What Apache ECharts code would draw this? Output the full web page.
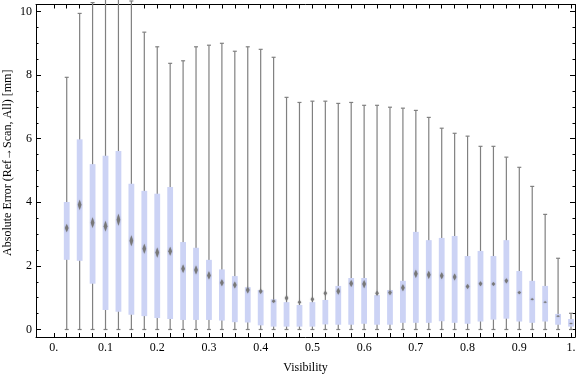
<!DOCTYPE html>
<html>
<head>
<meta charset="utf-8">
<script src="https://cdn.jsdelivr.net/npm/echarts@6/dist/echarts.min.js"></script>
<style>html,body{margin:0;padding:0;background:#fff;}#chart{width:576px;height:377px;}</style>
</head>
<body>
<div id="chart"></div>
<script>
// ---- data ----
const visibility = [0.025,0.05,0.075,0.1,0.125,0.15,0.175,0.2,0.225,0.25,0.275,0.3,0.325,0.35,0.375,0.4,0.425,0.45,0.475,0.5,0.525,0.55,0.575,0.6,0.625,0.65,0.675,0.7,0.725,0.75,0.775,0.8,0.825,0.85,0.875,0.9,0.925,0.95,0.975,1.0];
const whiskerLow = [0,0,0,0,0,0,0,0,0,0,0,0,0,0,0,0,0,0,0,0,0,0,0,0,0,0,0,0,0,0,0,0,0,0,0,0,0,0,0,0];
const quartile1 = [2.19,2.16,1.44,0.61,0.56,0.46,0.42,0.36,0.33,0.30,0.30,0.30,0.28,0.23,0.22,0.13,0.09,0.09,0.09,0.09,0.16,0.15,0.15,0.18,0.15,0.15,0.21,0.21,0.21,0.26,0.21,0.18,0.25,0.31,0.34,0.25,0.21,0.25,0.15,0.09];
const median = [3.19,3.92,3.36,3.25,3.45,2.79,2.54,2.42,2.46,1.91,1.87,1.70,1.47,1.40,1.24,1.20,0.89,0.99,0.86,0.95,1.14,1.20,1.45,1.43,1.14,1.16,1.31,1.75,1.72,1.69,1.65,1.35,1.44,1.43,1.53,1.16,0.95,0.86,0.42,0.19];
const quartile3 = [4.01,5.98,5.20,5.46,5.61,4.58,4.36,4.27,4.48,2.75,2.57,2.19,1.89,1.68,1.33,1.24,0.95,0.86,0.77,0.86,0.93,1.37,1.62,1.62,1.08,1.24,1.53,3.07,2.81,2.88,2.94,2.31,2.47,2.31,2.81,1.84,1.53,1.37,0.49,0.33];
const whiskerHigh = [7.93,9.94,10.28,10.6,10.6,10.33,9.35,8.89,8.37,8.45,8.89,8.94,9.00,8.75,8.89,8.81,8.56,7.30,7.14,7.18,7.18,7.11,7.14,7.05,7.05,6.99,6.96,6.89,6.67,6.33,6.17,6.08,5.76,5.76,5.42,5.10,4.50,3.62,2.24,0.51];
const medianNotch = [0.13,0.16,0.17,0.17,0.19,0.17,0.16,0.16,0.14,0.13,0.14,0.13,0.11,0.11,0.11,0.08,0.06,0.09,0.06,0.08,0.08,0.11,0.11,0.13,0.08,0.08,0.11,0.13,0.13,0.11,0.11,0.08,0.08,0.06,0.08,0.05,0.03,0.02,0.03,0.02];

const xLabelValues = [0,0.1,0.2,0.3,0.4,0.5,0.6,0.7,0.8,0.9,1.0];
const xLabelTexts = ["0.","0.1","0.2","0.3","0.4","0.5","0.6","0.7","0.8","0.9","1."];
const xTickValues = [0,0.025,0.05,0.075,0.1,0.125,0.15,0.175,0.2,0.225,0.25,0.275,0.3,0.325,0.35,0.375,0.4,0.425,0.45,0.475,0.5,0.525,0.55,0.575,0.6,0.625,0.65,0.675,0.7,0.725,0.75,0.775,0.8,0.825,0.85,0.875,0.9,0.925,0.95,0.975,1.0];
const yMajorValues = [0,2,4,6,8,10];
const yMinorValues = [0.5,1,1.5,2.5,3,3.5,4.5,5,5.5,6.5,7,7.5,8.5,9,9.5];

const xTitle = "Visibility";
const yTitle = "Absolute Error (Ref\u2192Scan, All) [mm]";

// ---- chart ----
const X_MIN = -0.0344, X_MAX = 1.0077, Y_MIN = -0.236, Y_MAX = 10.22;
const FONT = "'Liberation Serif','Times New Roman',serif";
const BOX_COLOR = 'rgb(204,211,245)';
const WHISKER_COLOR = '#808080';
const MEDIAN_COLOR = '#787878';

const boxData = visibility.map((v, i) => [v, whiskerLow[i], quartile1[i], median[i], quartile3[i], whiskerHigh[i], medianNotch[i]]);

function yAxisDef(pos, values, len, labels, name) {
  return {
    type: 'value', position: pos, min: Y_MIN, max: Y_MAX,
    axisLine: { show: labels || false, onZero: false, lineStyle: { color: '#000', width: 1 } },
    axisTick: { show: true, inside: true, length: len, customValues: values, lineStyle: { color: '#000', width: 1 } },
    axisLabel: labels ? { show: true, customValues: yMajorValues, color: '#000', fontFamily: FONT, fontSize: 12, margin: 4 } : { show: false },
    splitLine: { show: false },
    name: name || '',
    nameLocation: 'middle', nameGap: 22, nameMoveOverlap: false,
    nameTextStyle: { color: '#000', fontFamily: FONT, fontSize: 12, padding: [0, 0, 0, 16] }
  };
}

const option = {
  animation: false,
  backgroundColor: '#fff',
  grid: { left: 36, right: 1, top: 4.5, bottom: 40, containLabel: false, outerBoundsMode: 'none' },
  xAxis: [
    {
      type: 'value', position: 'bottom', min: X_MIN, max: X_MAX,
      axisLine: { show: true, onZero: false, lineStyle: { color: '#000', width: 1 } },
      axisTick: { show: true, inside: true, length: 4, customValues: xTickValues, lineStyle: { color: '#000' } },
      axisLabel: { show: true, customValues: xLabelValues, color: '#000', fontFamily: FONT, fontSize: 12, margin: 5,
        formatter: function (val) { const i = xLabelValues.findIndex(t => Math.abs(t - val) < 1e-6); return i >= 0 ? xLabelTexts[i] : ''; } },
      splitLine: { show: false },
      name: xTitle, nameLocation: 'middle', nameGap: 25, nameMoveOverlap: false,
      nameTextStyle: { color: '#000', fontFamily: FONT, fontSize: 12 }
    },
    {
      type: 'value', position: 'top', min: X_MIN, max: X_MAX,
      axisLine: { show: true, onZero: false, lineStyle: { color: '#000', width: 1 } },
      axisTick: { show: true, inside: true, length: 4, customValues: xTickValues, lineStyle: { color: '#000' } },
      axisLabel: { show: false }, splitLine: { show: false }
    }
  ],
  yAxis: [
    yAxisDef('left', yMajorValues, 5, true, yTitle),
    yAxisDef('left', yMinorValues, 2.5, false),
    Object.assign(yAxisDef('right', yMajorValues, 5, false), { axisLine: { show: true, onZero: false, lineStyle: { color: '#000', width: 1 } } }),
    yAxisDef('right', yMinorValues, 2.5, false)
  ],
  series: [{
    type: 'custom',
    xAxisIndex: 0, yAxisIndex: 0,
    clip: false,
    data: boxData,
    renderItem: function (params, api) {
      const x = api.value(0);
      const pLo = api.coord([x, api.value(1)]);
      const pQ1 = api.coord([x, api.value(2)]);
      const pMed = api.coord([x, api.value(3)]);
      const pQ3 = api.coord([x, api.value(4)]);
      const pHi = api.coord([x, api.value(5)]);
      const nh = Math.max(0.8, api.size([0, api.value(6)])[1]);
      const bw = api.size([0.0112, 0])[0];
      const cw = 2;
      const cx = pLo[0];
      const lineStyle = { stroke: WHISKER_COLOR, lineWidth: 1.2, fill: null };
      return {
        type: 'group',
        children: [
          { type: 'line', shape: { x1: cx, y1: pLo[1], x2: cx, y2: pHi[1] }, style: lineStyle },
          { type: 'line', shape: { x1: cx - cw, y1: pLo[1], x2: cx + cw, y2: pLo[1] }, style: lineStyle },
          { type: 'line', shape: { x1: cx - cw, y1: pHi[1], x2: cx + cw, y2: pHi[1] }, style: lineStyle },
          { type: 'rect', shape: { x: cx - bw / 2, y: pQ3[1], width: bw, height: pQ1[1] - pQ3[1] }, style: { fill: BOX_COLOR } },
          { type: 'polygon', shape: { points: [[cx, pMed[1] - nh], [cx + 1.8, pMed[1]], [cx, pMed[1] + nh], [cx - 1.8, pMed[1]]] },
            style: { fill: MEDIAN_COLOR, shadowBlur: 1.5, shadowColor: 'rgba(100,100,100,0.6)' } }
        ]
      };
    }
  }]
};

const chart = echarts.init(document.getElementById('chart'), null, { renderer: 'canvas' });
chart.setOption(option);
</script>
</body>
</html>
